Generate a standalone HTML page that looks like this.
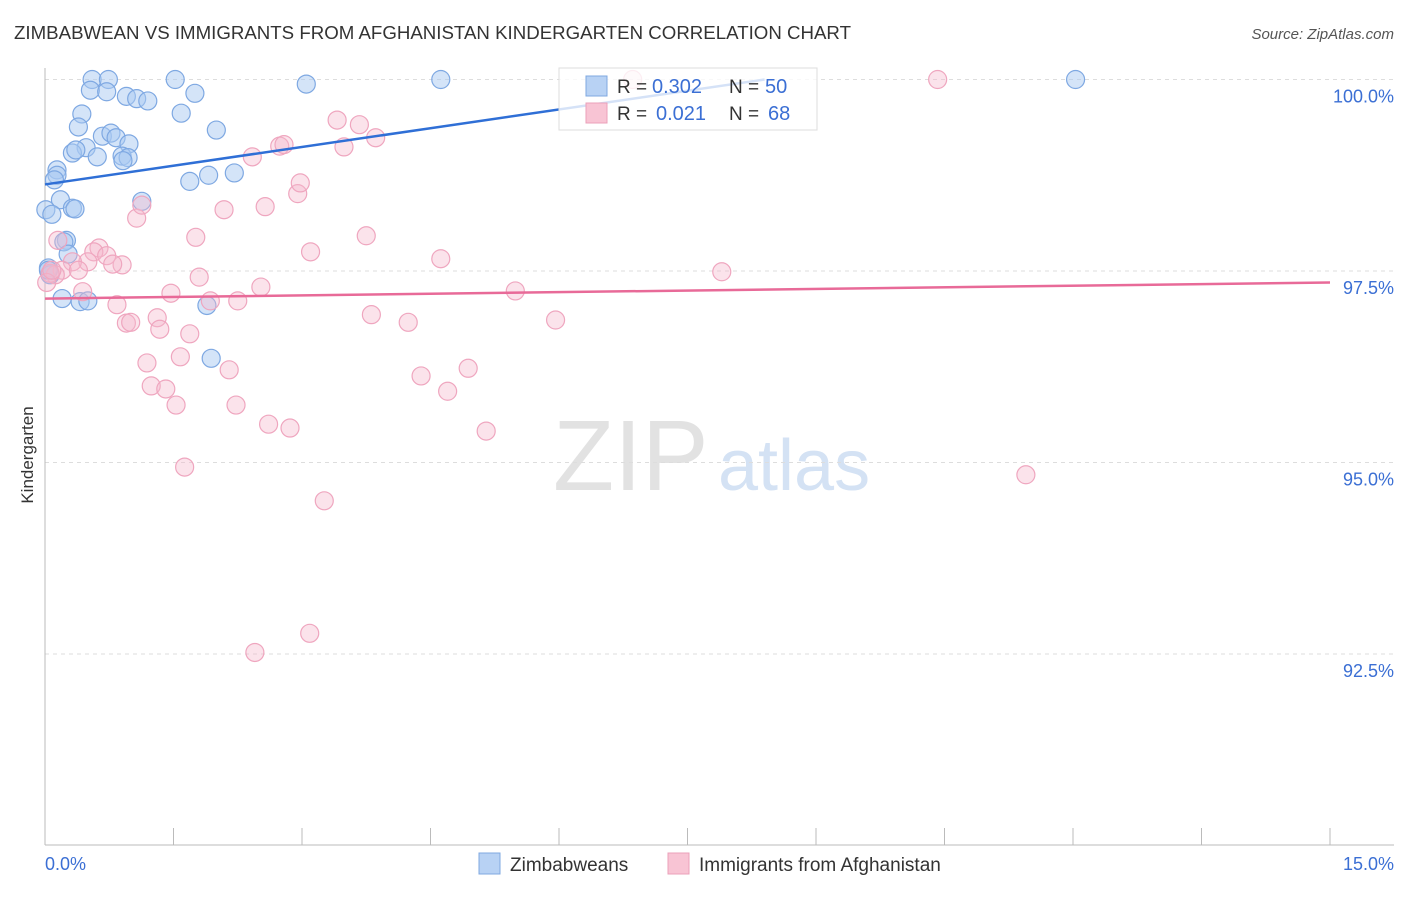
<!DOCTYPE html>
<html><head><meta charset="utf-8"><style>
body{margin:0;background:#fff;font-family:"Liberation Sans",sans-serif;}
svg text{font-family:"Liberation Sans",sans-serif;}
</style></head><body>
<svg id="c" width="1406" height="892" xmlns="http://www.w3.org/2000/svg">
<text x="14" y="39" font-size="18" fill="#333" textLength="837" lengthAdjust="spacingAndGlyphs">ZIMBABWEAN VS IMMIGRANTS FROM AFGHANISTAN KINDERGARTEN CORRELATION CHART</text>
<text x="1394" y="39" font-size="15" fill="#555" font-style="italic" text-anchor="end">Source: ZipAtlas.com</text>
<text x="553" y="490" font-size="100" fill="#e2e2e2" font-family="Liberation Serif">ZIP</text>
<text x="718" y="490" font-size="72" fill="#d4e2f4">atlas</text>
<text transform="translate(33,455) rotate(-90)" font-size="17" fill="#333" text-anchor="middle">Kindergarten</text>
<g id="grid"></g><g id="pts"></g><g id="lines"></g>
<g>
<rect x="559" y="68" width="258" height="62" fill="#fff" fill-opacity="0.8" stroke="#ddd"/>
<rect x="586" y="76" width="21" height="20" fill="#b8d2f4" stroke="#7fa8e0"/>
<rect x="586" y="103" width="21" height="20" fill="#f8c4d4" stroke="#eba0ba"/>
<text x="617" y="93" font-size="19" fill="#333">R =</text>
<text x="652" y="93" font-size="20" fill="#3b6fd4">0.302</text>
<text x="729" y="93" font-size="19" fill="#333">N =</text>
<text x="765" y="93" font-size="20" fill="#3b6fd4">50</text>
<text x="617" y="120" font-size="19" fill="#333">R =</text>
<text x="656" y="120" font-size="20" fill="#3b6fd4">0.021</text>
<text x="729" y="120" font-size="19" fill="#333">N =</text>
<text x="768" y="120" font-size="20" fill="#3b6fd4">68</text>
</g>
<g>
<rect x="479" y="853" width="21" height="21" fill="#b8d2f4" stroke="#7fa8e0"/>
<text x="510" y="871" font-size="19" fill="#333">Zimbabweans</text>
<rect x="668" y="853" width="21" height="21" fill="#f8c4d4" stroke="#eba0ba"/>
<text x="699" y="871" font-size="19" fill="#333">Immigrants from Afghanistan</text>
</g>
<text x="45" y="870" font-size="18" fill="#3b6fd4">0.0%</text>
<text x="1394" y="870" font-size="18" fill="#3b6fd4" text-anchor="end">15.0%</text>
</svg>
<script>
const yTicks=[100,97.5,95,92.5];
const yTickLabels=["100.0%","97.5%","95.0%","92.5%"];
const blueX=[0.55,0.74,1.52,4.62,12.03,3.05,0.53,0.72,1.75,0.95,1.07,1.20,1.59,0.43,0.39,2.00,0.67,0.77,0.83,0.98,0.48,0.32,0.36,0.61,0.90,0.97,0.91,2.21,1.91,1.69,0.14,0.14,0.11,1.13,0.18,0.32,0.35,0.01,0.08,0.25,0.22,0.27,0.04,0.06,0.20,0.41,0.50,1.89,1.94,0.04];
const blueY=[100,100,100,100,100,99.94,99.86,99.84,99.82,99.78,99.75,99.72,99.56,99.55,99.38,99.34,99.26,99.30,99.24,99.16,99.11,99.04,99.08,98.99,99.00,98.98,98.94,98.78,98.75,98.67,98.82,98.75,98.69,98.41,98.43,98.32,98.31,98.30,98.24,97.90,97.88,97.72,97.54,97.45,97.14,97.10,97.11,97.05,96.36,97.51];
const pinkX=[10.42,6.86,0.15,0.63,0.57,0.72,0.50,0.32,0.90,0.79,0.20,0.12,0.06,0.39,0.02,0.44,1.07,1.13,1.76,2.09,2.42,2.57,2.74,2.79,2.95,2.98,3.10,3.41,3.67,3.86,3.49,3.75,1.80,2.52,1.93,2.25,1.47,0.84,1.31,0.95,1.00,1.34,1.69,1.19,1.58,2.15,1.24,1.41,1.53,2.23,2.61,2.86,1.63,3.26,3.09,2.45,4.62,3.81,4.24,4.39,4.70,4.94,5.15,5.49,5.96,7.90,11.45,0.08];
const pinkY=[100,100,97.90,97.80,97.75,97.70,97.62,97.62,97.58,97.59,97.51,97.45,97.47,97.51,97.35,97.23,98.19,98.36,97.94,98.30,98.99,98.34,99.13,99.15,98.51,98.65,97.75,99.47,99.41,99.24,99.12,97.96,97.42,97.29,97.11,97.11,97.21,97.06,96.89,96.82,96.83,96.74,96.68,96.30,96.38,96.21,96.00,95.96,95.75,95.75,95.50,95.45,94.94,94.50,92.77,92.52,97.66,96.93,96.83,96.13,95.93,96.23,95.41,97.24,96.86,97.49,94.84,97.51];
const blueTrend=[98.63,100.0,8.4];
const pinkTrend=[97.14,97.35,15];
const NS="http://www.w3.org/2000/svg";
const X=v=>45+v/15*1285;
const Y=v=>79.5+(100-v)/2.5*191.5;
function mk(tag,attrs,parent){const e=document.createElementNS(NS,tag);for(const k in attrs)e.setAttribute(k,attrs[k]);parent.appendChild(e);return e;}
const grid=document.getElementById('grid'),pts=document.getElementById('pts'),lines=document.getElementById('lines');
yTicks.forEach((t,i)=>{
  const l=mk('line',{x1:45,x2:1394,y1:Y(t),y2:Y(t),stroke:'#ddd','stroke-dasharray':'4,4'},grid);
  
  
  const tx=mk('text',{x:1394,y:Y(t)+23,'font-size':18,fill:'#3b6fd4','text-anchor':'end'},grid);
  tx.textContent=yTickLabels[i];
  
  
});
const ax=mk('line',{x1:45,x2:45,y1:68,y2:845,stroke:'#bbb'},grid);


const bx=mk('line',{x1:45,x2:1394,y1:845,y2:845,stroke:'#bbb'},grid);


for(let i=0;i<=10;i++){const t=mk('line',{x1:X(i*1.5),x2:X(i*1.5),y1:828,y2:845,stroke:'#bbb'},grid);

}
blueX.forEach((x,i)=>{const c=mk('circle',{cx:X(x),cy:Y(blueY[i]),r:9,fill:'rgba(170,202,242,0.5)',stroke:'#7ea8e2','stroke-width':1.2},pts);

});
pinkX.forEach((x,i)=>{const c=mk('circle',{cx:X(x),cy:Y(pinkY[i]),r:9,fill:'rgba(246,184,204,0.4)',stroke:'#efa6bf','stroke-width':1.2},pts);

});
const bl=mk('line',{x1:X(0),y1:Y(blueTrend[0]),x2:X(blueTrend[2]),y2:Y(blueTrend[1]),stroke:'#2f6fd6','stroke-width':2.5},lines);


const pl=mk('line',{x1:X(0),y1:Y(pinkTrend[0]),x2:X(pinkTrend[2]),y2:Y(pinkTrend[1]),stroke:'#e86a98','stroke-width':2.5},lines);


</script>
</body></html>
